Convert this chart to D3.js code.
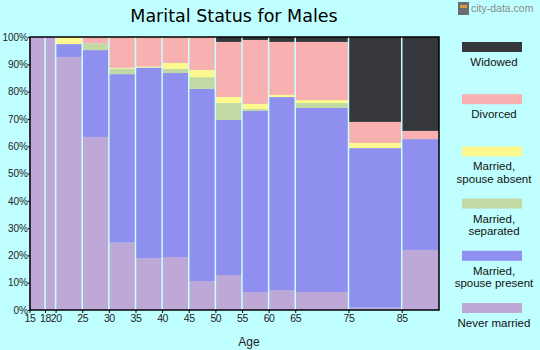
<!DOCTYPE html>
<html><head><meta charset="utf-8">
<script src="https://cdn.jsdelivr.net/npm/d3@7"></script>
<style>
html,body{margin:0;padding:0;background:#c0ffff;}
svg{display:block;}
</style></head>
<body>
<svg id="c" width="540" height="350"></svg>
<script>
// Age group boundaries (start ages); last group ends at plot edge
const groupStarts = [15, 18, 20, 25, 30, 35, 40, 45, 50, 55, 60, 65, 75, 85];
const groupEnd = 92;
const tickLabels = ["15","18","20","25","30","35","40","45","50","55","60","65","75","85"];
const seriesNames = ["Never married","Married, spouse present","Married, separated","Married, spouse absent","Divorced","Widowed"];
const seriesColors = ["#bea8d8","#8f8ff0","#c2d9a4","#fdf98f","#f8b1b0","#36373d"];
// values (%) per age group
const neverMarried   = [100, 100, 92.7, 63.4, 24.7, 19.0, 19.4, 10.6, 12.8, 6.6, 7.3, 6.6, 0.9, 22.0];
const spousePresent  = [0, 0, 4.7, 31.8, 61.7, 69.8, 67.4, 70.4, 56.8, 66.3, 70.7, 67.4, 58.4, 40.6];
const separated      = [0, 0, 0, 2.5, 2.0, 0, 1.5, 4.3, 6.2, 0.7, 0, 1.8, 0, 0];
const spouseAbsent   = [0, 0, 2.6, 0, 0.3, 0.4, 2.2, 2.6, 2.2, 1.9, 0.8, 1.1, 1.9, 0];
const divorced       = [0, 0, 0, 2.3, 11.3, 10.8, 9.5, 12.1, 20.2, 23.4, 19.4, 21.3, 7.7, 3.0];
const widowed        = [0, 0, 0, 0, 0, 0, 0, 0, 1.8, 1.1, 1.8, 1.8, 31.1, 34.4];
const yTicks = [0,10,20,30,40,50,60,70,80,90,100];

const series = [neverMarried, spousePresent, separated, spouseAbsent, divorced, widowed];

const svg = d3.select("#c");
const L = 30, R = 439, T = 37, B = 310;
const x = d3.scaleLinear().domain([15, groupEnd]).range([29, R]);
const y = d3.scaleLinear().domain([0, 100]).range([B, T]);

// title
svg.append("text").attr("x", 234).attr("y", 22).attr("text-anchor","middle")
  .attr("font-family","DejaVu Sans, Verdana, sans-serif").attr("font-size",17.5)
  .attr("fill","#000").text("Marital Status for Males");

// watermark
const wm = svg.append("g");
wm.append("rect").attr("x",458).attr("y",2).attr("width",11).attr("height",13).attr("fill","#6a6a70");
wm.append("rect").attr("x",460).attr("y",5).attr("width",7).attr("height",3).attr("fill","#d89a3a");
wm.append("text").attr("x",471).attr("y",12).attr("font-family","Liberation Sans, Arial, sans-serif")
  .attr("font-size",10.5).attr("fill","#8a8a8a").text("city-data.com");

// bars
const rows = groupStarts.map((s,i)=>{
  const o = {start:s, end: i<groupStarts.length-1 ? groupStarts[i+1] : groupEnd};
  seriesNames.forEach((n,k)=>o[n]=series[k][i]);
  return o;
});
const stack = d3.stack().keys(seriesNames)(rows);
stack.forEach((layer,k)=>{
  svg.append("g").selectAll("rect").data(layer).join("rect")
    .attr("x", d=>x(d.data.start))
    .attr("width", d=>x(d.data.end)-x(d.data.start))
    .attr("y", d=>y(Math.min(100,d[1])))
    .attr("height", d=>Math.max(0, y(d[0])-y(Math.min(100,d[1]))))
    .attr("fill", seriesColors[k]);
});
// separators
svg.append("g").selectAll("line").data(groupStarts.slice(1)).join("line")
  .attr("x1", d=>x(d)).attr("x2", d=>x(d)).attr("y1", T).attr("y2", B)
  .attr("stroke","#c8ffff").attr("stroke-width",1.5);

// frame
svg.append("rect").attr("x",L).attr("y",T).attr("width",R-L).attr("height",B-T)
  .attr("fill","none").attr("stroke","#000").attr("stroke-width",1.5);

// axes
const xAxis = d3.axisBottom(x).tickValues(groupStarts).tickFormat((d,i)=>tickLabels[i]).tickSize(3).tickSizeOuter(0);
const gx = svg.append("g").attr("transform",`translate(0,${B})`).call(xAxis);
gx.select(".domain").remove();
gx.selectAll(".tick:first-child").attr("transform",`translate(${L},0)`);
gx.selectAll("text").attr("font-family","Liberation Sans, Arial, sans-serif").attr("font-size",10.5)
  .attr("letter-spacing","-0.4").attr("fill","#222").attr("dy","0.6em");
gx.selectAll("line").attr("stroke","#000");

const yAxis = d3.axisLeft(y).tickValues(yTicks).tickFormat(d=>d+"%").tickSize(2).tickSizeOuter(0);
const gy = svg.append("g").attr("transform",`translate(${L},0)`).call(yAxis);
gy.select(".domain").remove();
gy.selectAll("text").attr("font-family","Liberation Sans, Arial, sans-serif").attr("font-size",10).attr("fill","#222").attr("x",-2);
gy.selectAll("line").attr("stroke","#000");

svg.append("text").attr("x",249).attr("y",346).attr("text-anchor","middle")
  .attr("font-family","Liberation Sans, Arial, sans-serif").attr("font-size",12).attr("fill","#222").text("Age");

// legend (top to bottom: reverse order)
const legendItems = seriesNames.map((n,k)=>({name:n,color:seriesColors[k]})).reverse();
const lg = svg.append("g");
legendItems.forEach((it,i)=>{
  const y0 = 42 + i*52.2;
  lg.append("rect").attr("x",462).attr("y",y0).attr("width",60).attr("height",10).attr("fill",it.color);
  const lines = it.name.includes(",") ? [it.name.split(",")[0]+",", it.name.split(",")[1].trim()] : [it.name];
  lines.forEach((t,j)=>{
    lg.append("text").attr("x",494).attr("y",y0+24+j*12.5).attr("text-anchor","middle")
      .attr("font-family","Liberation Sans, Arial, sans-serif").attr("font-size",11.5).attr("fill","#111").text(t);
  });
});
</script>
</body></html>
